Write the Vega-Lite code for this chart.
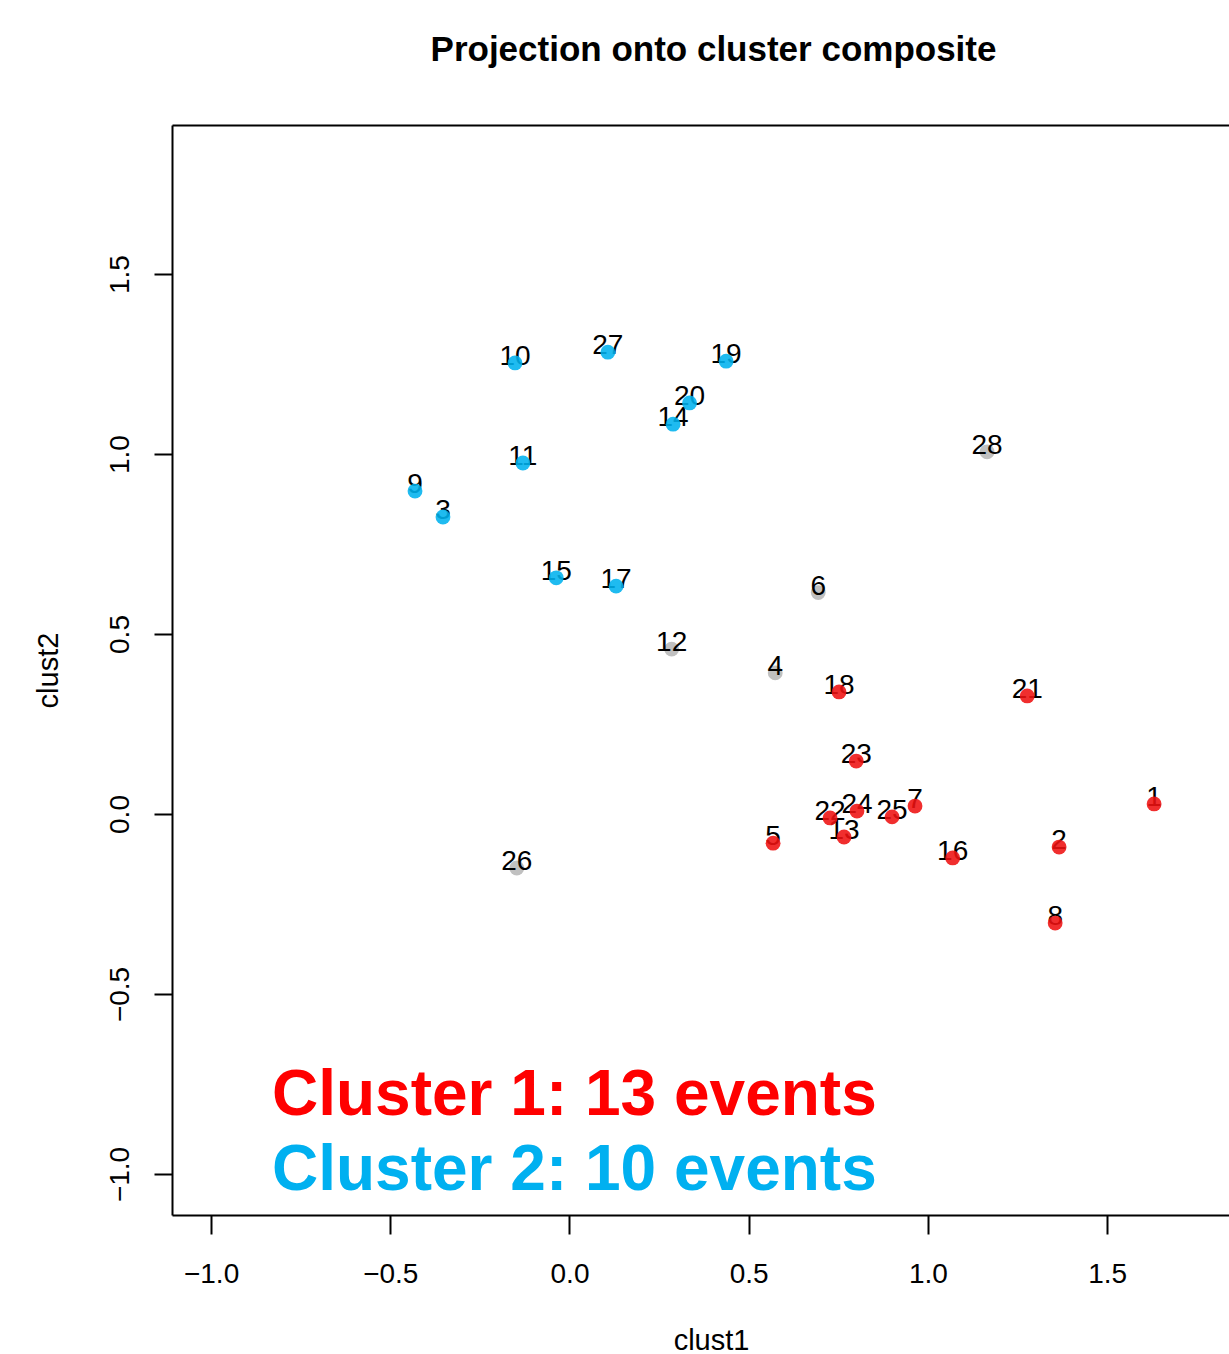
{
  "$schema": "https://vega.github.io/schema/vega-lite/v6.json",
  "width": 1057,
  "height": 1090,
  "autosize": {"type": "none"},
  "padding": {"left": 172, "top": 125, "right": 0, "bottom": 139},
  "background": "white",
  "config": {"view": {"stroke": null}},
  "title": {
    "text": "Projection onto cluster composite",
    "font": "Liberation Sans",
    "fontSize": 35,
    "fontWeight": "bold",
    "color": "black",
    "anchor": "middle",
    "baseline": "alphabetic",
    "dx": 13,
    "offset": 29
  },
  "datasets": {
    "pts": [
      {"id": "1", "x": 1.631, "y": 0.028, "group": "c1"},
      {"id": "2", "x": 1.366, "y": -0.092, "group": "c1"},
      {"id": "3", "x": -0.353, "y": 0.825, "group": "c2"},
      {"id": "4", "x": 0.574, "y": 0.392, "group": "none"},
      {"id": "5", "x": 0.568, "y": -0.081, "group": "c1"},
      {"id": "6", "x": 0.694, "y": 0.615, "group": "none"},
      {"id": "7", "x": 0.964, "y": 0.022, "group": "c1"},
      {"id": "8", "x": 1.355, "y": -0.303, "group": "c1"},
      {"id": "9", "x": -0.431, "y": 0.897, "group": "c2"},
      {"id": "10", "x": -0.152, "y": 1.253, "group": "c2"},
      {"id": "11", "x": -0.130, "y": 0.975, "group": "c2"},
      {"id": "12", "x": 0.285, "y": 0.458, "group": "none"},
      {"id": "13", "x": 0.766, "y": -0.064, "group": "c1"},
      {"id": "14", "x": 0.289, "y": 1.083, "group": "c2"},
      {"id": "15", "x": -0.037, "y": 0.656, "group": "c2"},
      {"id": "16", "x": 1.069, "y": -0.122, "group": "c1"},
      {"id": "17", "x": 0.130, "y": 0.633, "group": "c2"},
      {"id": "18", "x": 0.752, "y": 0.339, "group": "c1"},
      {"id": "19", "x": 0.437, "y": 1.258, "group": "c2"},
      {"id": "20", "x": 0.335, "y": 1.142, "group": "c2"},
      {"id": "21", "x": 1.277, "y": 0.328, "group": "c1"},
      {"id": "22", "x": 0.727, "y": -0.011, "group": "c1"},
      {"id": "23", "x": 0.800, "y": 0.147, "group": "c1"},
      {"id": "24", "x": 0.802, "y": 0.008, "group": "c1"},
      {"id": "25", "x": 0.900, "y": -0.008, "group": "c1"},
      {"id": "26", "x": -0.147, "y": -0.150, "group": "none"},
      {"id": "27", "x": 0.107, "y": 1.283, "group": "c2"},
      {"id": "28", "x": 1.165, "y": 1.006, "group": "none"}
    ],
    "notes": [
      {"label": "Cluster 1: 13 events", "x": -0.83, "y": -0.836, "cluster": "Cluster 1"},
      {"label": "Cluster 2: 10 events", "x": -0.83, "y": -1.044, "cluster": "Cluster 2"}
    ]
  },
  "layer": [
    {
      "data": {"name": "pts"},
      "transform": [{"filter": "datum.group === 'none'"}],
      "mark": {"type": "circle", "size": 220, "opacity": 1},
      "encoding": {
        "x": {
          "field": "x", "type": "quantitative",
          "scale": {"domain": [-1.109, 1.84], "nice": false, "zero": false},
          "axis": {
            "orient": "bottom",
            "values": [-1, -0.5, 0, 0.5, 1, 1.5],
            "format": ".1f",
            "grid": false,
            "domainColor": "black", "domainWidth": 2,
            "tickColor": "black", "tickWidth": 2, "tickSize": 19,
            "labelFont": "Liberation Sans", "labelFontSize": 28, "labelColor": "black",
            "labelPadding": 26, "labelFlush": false, "labelOverlap": false, "labelBound": false,
            "title": "clust1",
            "titleFont": "Liberation Sans", "titleFontSize": 29, "titleFontWeight": "normal", "titleColor": "black",
            "titleAlign": "center", "titleBaseline": "alphabetic",
            "titleX": 539, "titleY": 134, "titleAngle": 0
          }
        },
        "y": {
          "field": "y", "type": "quantitative",
          "scale": {"domain": [-1.114, 1.914], "nice": false, "zero": false},
          "axis": {
            "orient": "left",
            "values": [-1, -0.5, 0, 0.5, 1, 1.5],
            "format": ".1f",
            "grid": false,
            "domainColor": "black", "domainWidth": 2,
            "tickColor": "black", "tickWidth": 2, "tickSize": 18,
            "labelFont": "Liberation Sans", "labelFontSize": 28, "labelColor": "black",
            "labelAngle": 270, "labelAlign": "center", "labelBaseline": "alphabetic",
            "labelPadding": 26, "labelFlush": false, "labelOverlap": false, "labelBound": false,
            "title": "clust2",
            "titleFont": "Liberation Sans", "titleFontSize": 29, "titleFontWeight": "normal", "titleColor": "black",
            "titleAngle": 270, "titleAlign": "center", "titleBaseline": "alphabetic",
            "titleX": -115, "titleY": 545
          }
        },
        "color": {
          "field": "group", "type": "nominal",
          "scale": {"domain": ["none", "c1", "c2"], "range": ["#C0C0C0", "#EE1111", "#00B2EE"]},
          "legend": null
        }
      }
    },
    {
      "data": {"name": "pts"},
      "mark": {"type": "text", "font": "Liberation Sans", "fontSize": 28, "color": "black", "align": "center", "baseline": "middle", "dy": -6},
      "encoding": {
        "x": {
          "field": "x", "type": "quantitative",
          "axis": {"orient": "top", "labels": false, "ticks": false, "grid": false, "title": null, "domainColor": "black", "domainWidth": 2}
        },
        "y": {"field": "y", "type": "quantitative", "axis": null},
        "text": {"field": "id"}
      }
    },
    {
      "data": {"name": "pts"},
      "transform": [{"filter": "datum.group !== 'none'"}],
      "mark": {"type": "circle", "size": 220, "opacity": 0.88},
      "encoding": {
        "x": {"field": "x", "type": "quantitative", "axis": null},
        "y": {"field": "y", "type": "quantitative", "axis": null},
        "color": {"field": "group", "type": "nominal", "legend": null}
      }
    },
    {
      "data": {"name": "notes"},
      "mark": {"type": "text", "font": "Liberation Sans", "fontSize": 64, "fontWeight": "bold", "align": "left", "baseline": "alphabetic"},
      "encoding": {
        "x": {"field": "x", "type": "quantitative", "axis": null},
        "y": {"field": "y", "type": "quantitative", "axis": null},
        "text": {"field": "label"},
        "fill": {
          "field": "cluster", "type": "nominal",
          "scale": {"domain": ["Cluster 1", "Cluster 2"], "range": ["#FF0000", "#00B0F0"]},
          "legend": null
        }
      }
    }
  ],
  "resolve": {"axis": {"x": "independent", "y": "independent"}}
}
